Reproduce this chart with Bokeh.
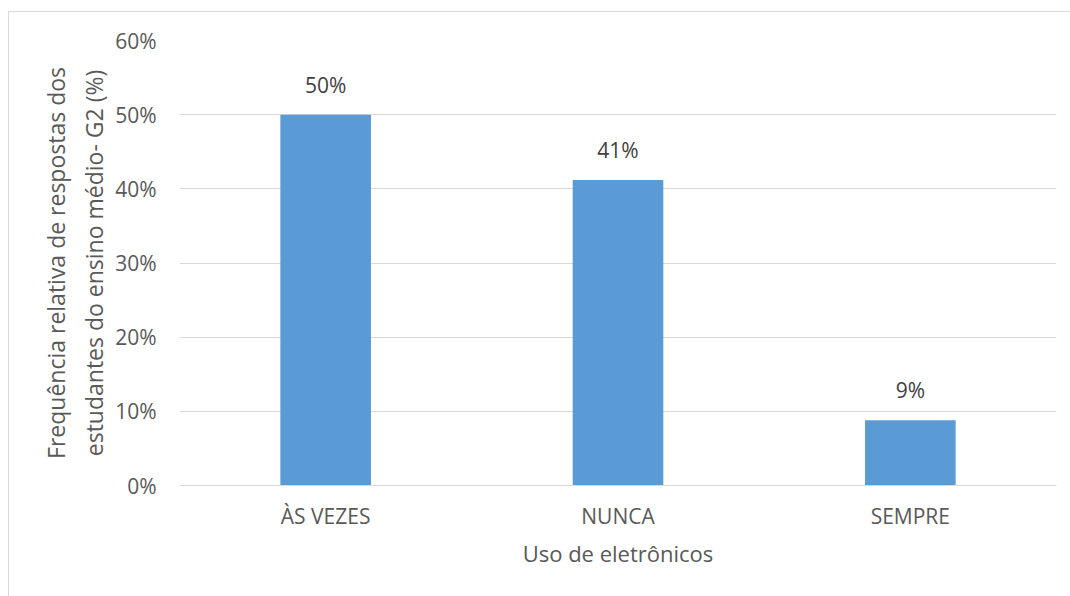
from bokeh.plotting import figure
from bokeh.models import ColumnDataSource
from bokeh.models import Range1d, FixedTicker, NumeralTickFormatter, FactorRange
from bokeh.core.properties import value
from bokeh.embed import file_html
from bokeh.resources import INLINE

categories = ["ÀS VEZES", "NUNCA", "SEMPRE"]
values = [0.50, 0.412, 0.088]
labels = ["50%", "41%", "9%"]
y_ticks = [0, 0.1, 0.2, 0.3, 0.4, 0.5, 0.6]

FONT = "Open Sans"
GRAY = "#595959"

src = ColumnDataSource(dict(cat=categories, val=values, lab=labels))

p = figure(x_range=FactorRange(*categories, range_padding=0),
           y_range=Range1d(0, 0.6),
           width=1062, height=586,
           output_backend="svg", toolbar_location=None,
           min_border_left=170, min_border_right=15,
           min_border_top=28, min_border_bottom=113)
p.margin = (11, 0, 0, 8)
p.styles = {"border-left": "1px solid #d9d9d9", "border-top": "1px solid #d9d9d9"}
p.outline_line_color = None
p.background_fill_color = "white"
p.border_fill_color = "white"

p.vbar(x="cat", top="val", width=0.31, source=src, color="#5b9bd5", line_color=None)
p.text(x="cat", y="val", text="lab", source=src, text_align="center",
       text_baseline="alphabetic", y_offset=-30, text_color="#404040",
       text_font=value(FONT), text_font_size="21px")

p.xgrid.grid_line_color = None
p.ygrid.grid_line_color = "#d9d9d9"
p.ygrid.grid_line_width = 1

p.yaxis.ticker = FixedTicker(ticks=y_ticks)
p.yaxis.formatter = NumeralTickFormatter(format="0%")
p.yaxis.axis_line_color = None
p.yaxis.major_tick_line_color = None
p.yaxis.minor_tick_line_color = None
p.yaxis.major_label_standoff = 17
p.yaxis.axis_label = "Frequência relativa de respostas dos\nestudantes do ensino médio- G2 (%)"
p.yaxis.axis_label_standoff = 2

p.xaxis.axis_line_color = "#d9d9d9"
p.xaxis.major_tick_line_color = None
p.xaxis.minor_tick_line_color = None
p.xaxis.major_label_standoff = 10
p.xaxis.axis_label = "Uso de eletrônicos"
p.xaxis.axis_label_standoff = 5

for ax in (p.xaxis[0], p.yaxis[0]):
    ax.major_label_text_font = FONT
    ax.major_label_text_font_size = "21px"
    ax.major_label_text_color = GRAY
    ax.axis_label_text_font = FONT
    ax.axis_label_text_font_size = "22px"
    ax.axis_label_text_font_style = "normal"
    ax.axis_label_text_color = GRAY
p.yaxis.axis_label_text_font_size = "23px"

open("out.html", "w").write(file_html(p, INLINE))
